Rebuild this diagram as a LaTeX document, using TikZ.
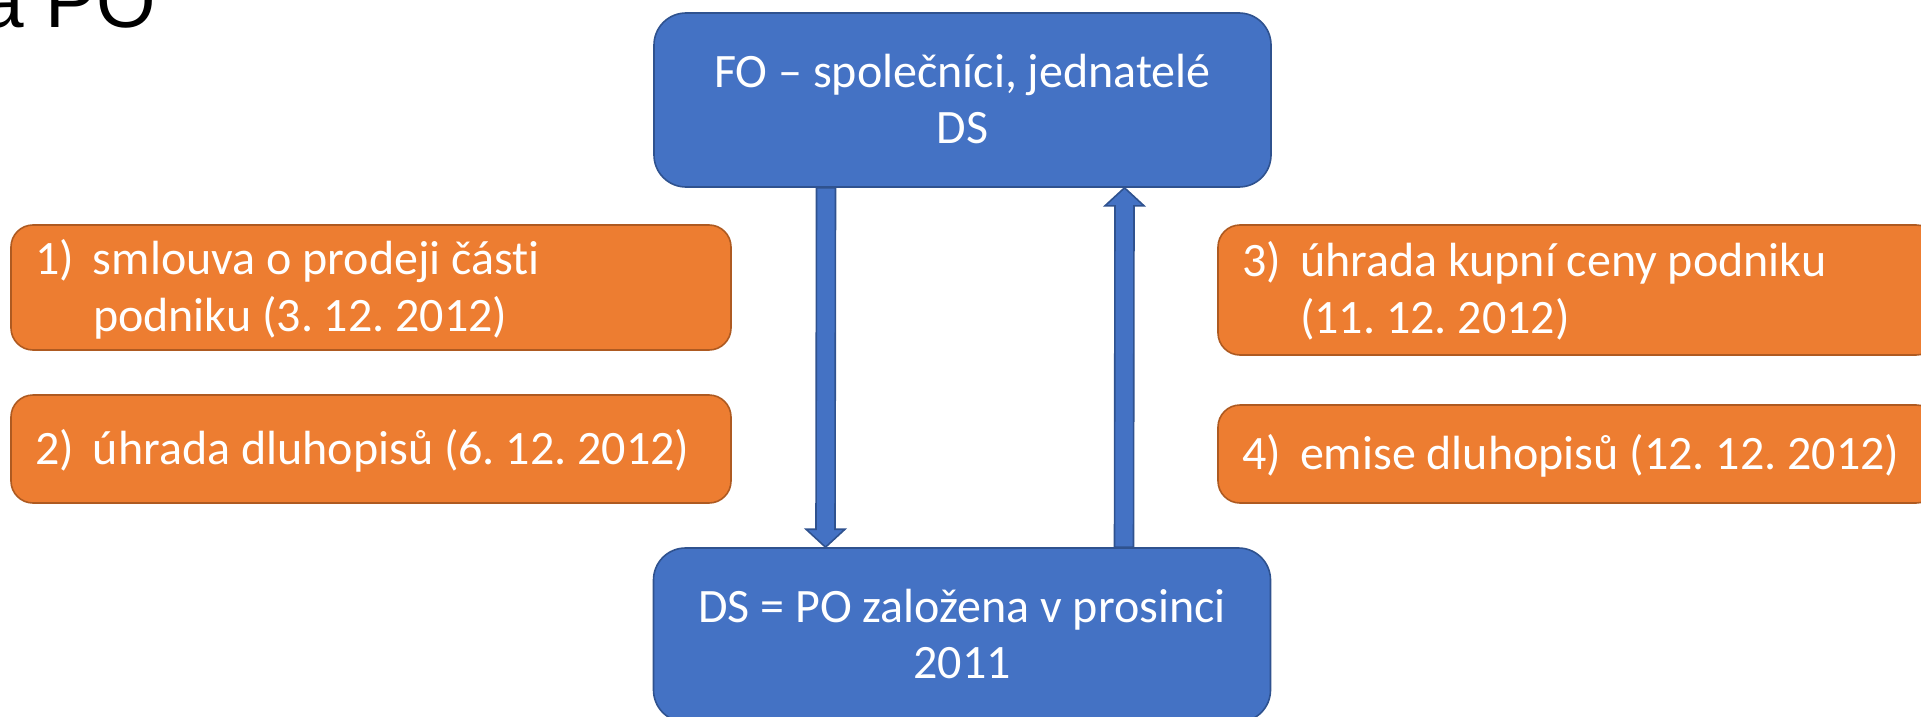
\documentclass[tikz,border=0pt]{standalone}
\usepackage{fontspec}
\setmainfont{Carlito}[Ligatures=NoCommon]
\newfontfamily\titlefont{Liberation Sans}
\usetikzlibrary{calc}
\definecolor{boxblue}{HTML}{4472C4}
\definecolor{edgeblue}{HTML}{2F528F}
\definecolor{boxorange}{HTML}{ED7D31}
\definecolor{edgeorange}{HTML}{AE5A21}
\newcommand{\itemno}[1]{\makebox[29pt][l]{#1}}
\newcommand{\itemgap}{\hspace*{29pt}}
\newcommand{\topstrut}{\rule{0pt}{21pt}}
\newcommand{\botstrut}{\rule[-6pt]{0pt}{6pt}}
\newcommand{\blockdown}[2]{
  \draw[blockarrow] ($(#1)+(-9.5,0)$) -- ($(#2)+(-9.5,-18)$) -- ($(#2)+(-19.5,-18)$) -- (#2)
    -- ($(#2)+(19.5,-18)$) -- ($(#2)+(9.5,-18)$) -- ($(#1)+(9.5,0)$) -- cycle;% shaft, then head
}
\newcommand{\blockup}[2]{
  \draw[blockarrow] ($(#1)+(-9.5,0)$) -- ($(#2)+(-9.5,18)$) -- ($(#2)+(-19.5,18)$) -- (#2)
    -- ($(#2)+(19.5,18)$) -- ($(#2)+(9.5,18)$) -- ($(#1)+(9.5,0)$) -- cycle;% shaft, then head
}
\begin{document}
\begin{tikzpicture}[x=0.5pt,y=-0.5pt,
    plainspace/.style={execute at begin node={\spaceskip=0pt\xspaceskip=0pt}},
    bluebox/.style={draw=edgeblue,line width=0.8pt,fill=boxblue,rounded corners=16pt,
      text=white,align=center,minimum width=308.5pt,minimum height=87pt,inner ysep=0pt,
      font=\fontsize{24}{28}\selectfont\frenchspacing,plainspace},
    stepbox/.style={draw=edgeorange,line width=0.8pt,fill=boxorange,rounded corners=11pt,
      text=white,align=left,text width=336pt,inner xsep=12pt,inner ysep=0pt,
      font=\fontsize{24}{28.5}\selectfont\frenchspacing,plainspace},
    blockarrow/.style={draw=edgeblue,line width=0.8pt,fill=boxblue}]
    \useasboundingbox (0,0) rectangle (1921,717);
    \clip (0,0) rectangle (1921,717);

    \node[anchor=base east,inner sep=0pt,font=\titlefont\fontsize{38.25}{38}\selectfont] (title) at (156.6,28) {a PO};

    \node[bluebox] (fo) at (962.5,100) {\topstrut FO – společníci, jednatelé\\DS\botstrut};
    \node[bluebox] (ds) at (962,635) {\topstrut DS = PO založena v prosinci\\2011\botstrut};

    \node[stepbox,minimum height=62.5pt] (smlouva) at (371,287.5)
      {\topstrut\itemno{1)}smlouva o prodeji části\\\itemgap podniku (3. 12. 2012)\botstrut};
    \node[stepbox,minimum height=54pt] (uhrada) at (371,449)
      {\topstrut\itemno{2)}úhrada dluhopisů (6. 12. 2012)\botstrut};
    \node[stepbox,minimum height=65pt] (kupni) at (1578,290)
      {\topstrut\itemno{3)}úhrada kupní ceny podniku\\\itemgap (11. 12. 2012)\botstrut};
    \node[stepbox,minimum height=49pt] (emise) at (1578,454)
      {\topstrut\itemno{4)}emise dluhopisů (12. 12. 2012)\botstrut};

    \coordinate (downtop) at ($(fo.south)+(-136.5,0)$);
    \coordinate (downtip) at ($(ds.north)+(-136.5,0)$);
    \coordinate (upbot) at ($(ds.north)+(162,0)$);
    \coordinate (uptip) at ($(fo.south)+(162,0)$);
    \blockdown{downtop}{downtip}
    \blockup{upbot}{uptip}
\end{tikzpicture}
\end{document}
